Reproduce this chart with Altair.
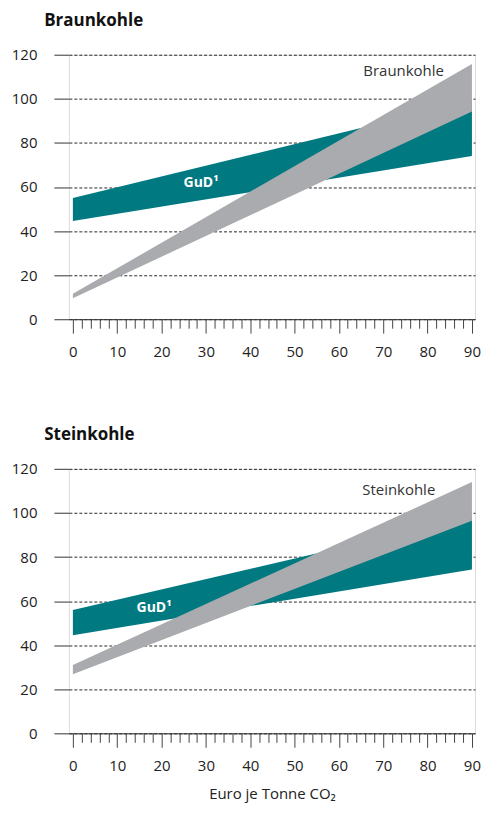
import altair as alt
import pandas as pd

FONT = "Open Sans"

# ---- data ----
x_ends = [0, 90]

braun_gud_low = [44.5, 74.1]
braun_gud_high = [55.0, 99.0]
braun_low = [9.5, 94.3]
braun_high = [11.5, 115.8]

stein_gud_low = [44.5, 74.3]
stein_gud_high = [55.9, 98.0]
stein_low = [26.8, 96.5]
stein_high = [31.0, 114.0]

y_ticks = [0, 20, 40, 60, 80, 100, 120]
x_ticks = list(range(0, 91, 2))

gud_label = "GuD\u00b9"
braun_gud_pos = [28.9, 62.0]
stein_gud_pos = [18.3, 56.8]
braun_label_pos = [74.6, 112.8]
stein_label_pos = [73.5, 110.5]

TEAL = "#007A80"
GREY = "#AAABAF"


def panel(name, gl, gh, fl, fh, gud_pos, lab_pos, x_title, title_offset):
    df_gud = pd.DataFrame({"x": x_ends, "lo": gl, "hi": gh})
    df_fuel = pd.DataFrame({"x": x_ends, "lo": fl, "hi": fh})
    df_gud_t = pd.DataFrame({"x": [gud_pos[0]], "y": [gud_pos[1]], "t": [gud_label]})
    df_fuel_t = pd.DataFrame({"x": [lab_pos[0]], "y": [lab_pos[1]], "t": [name]})

    xs = alt.Scale(domain=[-0.9, 90.7], nice=False, zero=False)
    ys = alt.Scale(domain=[0, 120], nice=False)

    xaxis = alt.Axis(
        values=x_ticks,
        labelExpr="datum.value % 10 === 0 ? datum.label : ''",
        tickSize={"condition": {"test": "datum.value % 10 === 0", "value": 14}, "value": 9},
        tickColor="#444",
        tickWidth=1,
        domainColor="#333",
        domainWidth=1,
        labelFontSize=15,
        labelColor="#222",
        labelFont=FONT,
        labelPadding=11,
        labelOverlap=False,
        labelFlush=False,
        grid=False,
        title=x_title,
        titleFont=FONT,
        titleFontSize=15,
        titleFontWeight="normal",
        titleColor="#222",
        titlePadding=13,
    )
    yaxis = alt.Axis(
        values=y_ticks,
        grid=True,
        gridDash=[3, 2],
        gridColor="#111",
        gridWidth=0.9,
        tickSize=15,
        tickColor="#555",
        tickWidth=1.2,
        domain=False,
        labelFontSize=15,
        labelColor="#222",
        labelFont=FONT,
        labelPadding=17,
        title="",
    )

    X = lambda f: alt.X(f, scale=xs, axis=xaxis)
    Y = lambda f: alt.Y(f, scale=ys, axis=yaxis)

    gud = alt.Chart(df_gud).mark_area(color=TEAL, opacity=1).encode(
        x=X("x:Q"), y=Y("lo:Q"), y2="hi:Q"
    )
    fuel = alt.Chart(df_fuel).mark_area(color=GREY, opacity=1).encode(
        x=X("x:Q"), y=Y("lo:Q"), y2="hi:Q"
    )
    gud_t = alt.Chart(df_gud_t).mark_text(
        color="white", font=FONT, fontSize=14, fontWeight="bold", align="center", baseline="middle"
    ).encode(x=X("x:Q"), y=Y("y:Q"), text="t:N")
    fuel_t = alt.Chart(df_fuel_t).mark_text(
        color="#333", font=FONT, fontSize=15, align="center", baseline="middle"
    ).encode(x=X("x:Q"), y=Y("y:Q"), text="t:N")

    return alt.layer(gud, fuel, gud_t, fuel_t).properties(
        width=407,
        height=265,
        title=alt.TitleParams(
            name, anchor="start", frame="bounds", font=FONT, fontSize=17, fontWeight="bold",
            color="#111", dx=33, offset=title_offset,
        ),
    )


top = panel("Braunkohle", braun_gud_low, braun_gud_high, braun_low, braun_high,
            braun_gud_pos, braun_label_pos, "", 18)
bottom = panel("Steinkohle", stein_gud_low, stein_gud_high, stein_low, stein_high,
               stein_gud_pos, stein_label_pos, "Euro je Tonne CO\u2082", 18)

chart = alt.vconcat(top, bottom, spacing=65).properties(
    padding={"left": 2, "top": 2, "right": 0, "bottom": 0}
).configure_view(stroke=None).configure(background="white")

chart.save("out.html", embed_options={"renderer": "svg", "actions": False})
